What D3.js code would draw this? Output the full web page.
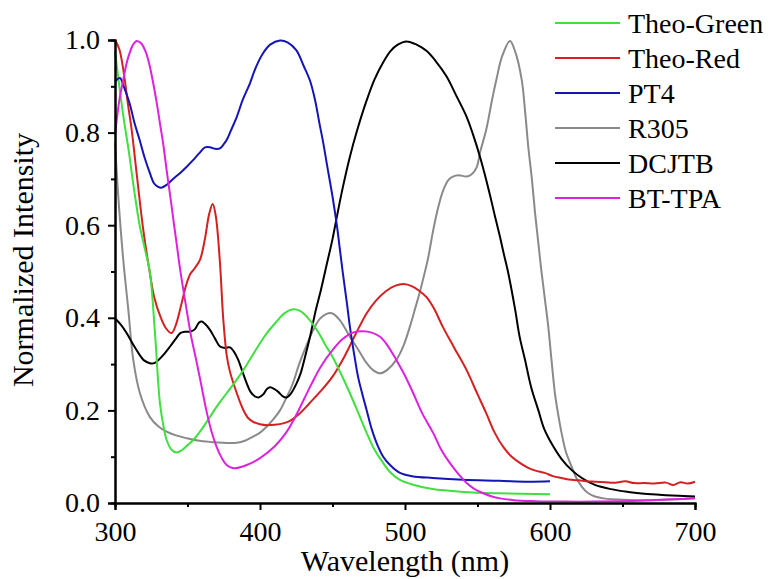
<!DOCTYPE html>
<html>
<head>
<meta charset="utf-8">
<script src="https://cdn.jsdelivr.net/npm/d3@7/dist/d3.min.js"></script>
</head>
<body style="margin:0">
<svg id="s" width="770" height="579"></svg>
<script>
// ---------- data ----------
const seriesNames = ["Theo-Green", "Theo-Red", "PT4", "R305", "DCJTB", "BT-TPA"];
const seriesColors = ["#3fe03f", "#d42020", "#1414b8", "#8a8a8a", "#000000", "#dd22dd"];

const xTicks = [300, 400, 500, 600, 700];
const xMinorTicks = [350, 450, 550, 650];
const yTicks = [0.0, 0.2, 0.4, 0.6, 0.8, 1.0];
const yMinorTicks = [0.1, 0.3, 0.5, 0.7, 0.9];

const theoGreen = [
  [300,0.975],[303,0.90],[306,0.83],[309.5,0.76],[313,0.68],[317,0.60],[320.5,0.55],[324,0.50],
  [327.5,0.37],[331,0.215],[333.5,0.165],[335.6,0.136],[339,0.115],[342.5,0.109],[346,0.114],
  [350,0.125],[354,0.136],[360,0.16],[365.5,0.186],[371,0.212],[377,0.237],[383,0.262],
  [388.5,0.287],[394,0.315],[400,0.345],[405,0.368],[411.5,0.392],[417,0.41],[422,0.418],
  [427.6,0.415],[433,0.40],[440,0.37],[445,0.342],[450,0.316],[456,0.278],[462,0.237],
  [468,0.193],[473.6,0.151],[479,0.115],[485,0.086],[490,0.066],[496.5,0.05],[505,0.04],
  [519,0.030],[540,0.024],[565,0.021],[600,0.019]
];

const theoRed = [
  [300,1.0],[303,0.98],[306,0.93],[309,0.86],[311.5,0.806],[315,0.71],[319.5,0.59],[323.7,0.503],
  [327,0.445],[331,0.405],[335,0.378],[339,0.367],[342,0.385],[346,0.432],[349,0.47],[352,0.495],
  [355,0.507],[358.6,0.525],[362,0.57],[365,0.625],[367.4,0.646],[369.5,0.62],[372.4,0.518],
  [374.6,0.40],[377,0.32],[379,0.287],[384,0.237],[388.5,0.201],[392,0.183],[395,0.176],
  [400,0.17],[405,0.168],[410,0.169],[416,0.172],[421,0.178],[427,0.192],[434,0.215],
  [442,0.242],[450,0.273],[458,0.315],[466,0.365],[473.6,0.41],[480,0.437],[487,0.458],
  [493,0.469],[499,0.473],[505,0.468],[510,0.458],[515,0.444],[520,0.42],
  [526,0.381],[534,0.335],[542.5,0.287],[550,0.235],[556,0.194],[562,0.151],[568,0.12],
  [573.6,0.1],[580,0.085],[585,0.076],[590,0.07],[596.5,0.065],[602,0.058],[608,0.054],
  [615,0.05],[620,0.049],[625,0.047],[631,0.046],[638,0.045],[645,0.044],[652,0.047],
  [658,0.043],[665,0.043],[672,0.042],[680,0.044],[685,0.039],[690,0.045],[695,0.042],[700,0.046]
];

const pt4 = [
  [300,0.91],[303.4,0.918],[306,0.9],[310,0.864],[313.5,0.82],[317,0.784],[320.5,0.745],
  [324,0.713],[327,0.69],[329.7,0.683],[332,0.681],[335.6,0.687],[340,0.70],[345,0.713],
  [350,0.728],[354,0.741],[358,0.755],[362,0.768],[366,0.768],[369,0.765],[372.4,0.766],
  [375,0.775],[377,0.784],[380,0.805],[384,0.834],[388,0.87],[393,0.906],[397,0.94],
  [402,0.971],[407,0.99],[413.8,0.999],[419,0.995],[425,0.978],[430,0.945],[434.5,0.912],
  [438,0.87],[441,0.82],[443.5,0.78],[446,0.734],[450,0.662],[453,0.60],[455,0.55],
  [457,0.50],[460,0.43],[462,0.381],[465,0.32],[467.6,0.273],[471,0.23],[473.6,0.2],
  [477,0.16],[480.5,0.129],[485,0.1],[489.7,0.082],[496.5,0.065],[505,0.058],[519,0.054],
  [540,0.05],[565,0.048],[585,0.046],[600,0.047]
];

const r305 = [
  [300,0.78],[302.3,0.66],[305.7,0.525],[309.2,0.417],[312.6,0.309],[317.2,0.237],[324,0.186],
  [330,0.165],[335.6,0.154],[342,0.146],[349.4,0.14],[357,0.135],[365.5,0.132],[375,0.13],
  [384,0.13],[390,0.135],[395,0.143],[400,0.152],[404.6,0.165],[409,0.18],[413.8,0.2],
  [418,0.226],[422.5,0.257],[427,0.30],[432,0.34],[437,0.375],[442,0.40],[449.4,0.41],
  [455,0.395],[462,0.359],[468,0.33],[473.6,0.302],[478,0.287],[482.8,0.28],[488,0.288],
  [494,0.309],[499,0.34],[503.4,0.381],[507,0.42],[510,0.453],[513,0.49],[516,0.53],
  [519.5,0.59],[523,0.64],[526.4,0.676],[530,0.698],[533,0.705],[537,0.708],[542.5,0.705],
  [546,0.71],[549.4,0.725],[552,0.76],[556,0.806],[560,0.87],[563,0.914],[567,0.965],
  [572.4,0.998],[576,0.975],[580.5,0.914],[583,0.84],[585,0.77],[587.5,0.70],[589.7,0.626],
  [592,0.56],[594,0.503],[596.5,0.44],[598.8,0.381],[601,0.31],[603.4,0.237],[606,0.185],
  [608,0.151],[611,0.11],[615,0.078],[618,0.055],[622,0.035],[626,0.022],[631,0.014],
  [637,0.01],[642.5,0.008],[660,0.006],[680,0.007],[700,0.01]
];

const dcjtb = [
  [300,0.399],[304,0.385],[308,0.367],[312,0.345],[317,0.32],[320,0.308],[324,0.302],
  [327,0.302],[330,0.309],[334,0.322],[338,0.338],[342,0.355],[345,0.367],[348,0.37],
  [351.7,0.37],[355,0.375],[358,0.39],[359.8,0.392],[362,0.387],[365.5,0.374],[369,0.355],
  [372.4,0.338],[376,0.335],[379.3,0.336],[382,0.327],[385,0.309],[388,0.283],[390.8,0.259],
  [393.5,0.24],[396.6,0.23],[399,0.228],[402.3,0.235],[405,0.247],[407,0.25],[410,0.246],
  [412.6,0.24],[415.5,0.231],[418.4,0.228],[421,0.235],[425.3,0.259],[428,0.28],[431,0.315],
  [434.5,0.359],[438,0.41],[442,0.46],[446,0.515],[450,0.57],[453,0.618],[457,0.68],
  [462,0.748],[467,0.805],[473.6,0.87],[479,0.915],[485,0.952],[490,0.976],[495,0.99],
  [501,0.997],[508,0.99],[515,0.976],[521,0.955],[528.7,0.921],[535,0.882],[542.5,0.834],
  [547,0.795],[551.7,0.748],[555,0.71],[558.6,0.665],[562,0.62],[565.5,0.575],[568,0.54],
  [571,0.50],[576,0.417],[579,0.36],[582.8,0.309],[587,0.25],[592,0.2],[596,0.16],
  [601,0.129],[608,0.095],[615,0.071],[622,0.054],[631,0.039],[642,0.03],[654,0.024],
  [665,0.02],[680,0.017],[700,0.014]
];

const btTpa = [
  [300,0.795],[303,0.87],[305.7,0.914],[308,0.95],[310,0.971],[312.5,0.99],[315,0.998],
  [318,0.993],[320.7,0.978],[323.5,0.95],[326.4,0.906],[329,0.86],[331,0.82],[333.5,0.77],
  [335.6,0.719],[338,0.665],[340,0.618],[342.5,0.56],[345,0.503],[349.4,0.417],[352.5,0.36],
  [356,0.309],[359.5,0.255],[363,0.2],[366.5,0.155],[370,0.122],[373.5,0.098],[377,0.082],
  [381.6,0.075],[390,0.081],[400,0.097],[410,0.122],[418,0.152],[425,0.19],[430,0.222],
  [436,0.26],[442,0.295],[450,0.33],[457,0.354],[464,0.368],[471,0.371],[477,0.368],
  [482.8,0.359],[488,0.34],[494,0.309],[500,0.275],[505.7,0.237],[512,0.193],[519.5,0.151],
  [525,0.115],[531,0.086],[537,0.062],[542.5,0.043],[548,0.03],[554,0.021],[560,0.014],
  [565.5,0.01],[575,0.006],[590,0.004],[610,0.003],[630,0.003],[650,0.004],[670,0.006],
  [685,0.008],[700,0.01]
];

const seriesData = [theoGreen, theoRed, pt4, r305, dcjtb, btTpa];

// ---------- layout ----------
const SERIF = "Liberation Serif";
const svg = d3.select("#s");
const x = d3.scaleLinear().domain([300, 700]).range([115, 695]);
const y = d3.scaleLinear().domain([0, 1.0]).range([503, 40]);
const FONT = 28;

function serifText(sel, size) {
  sel.attr("font-family", SERIF).attr("font-size", size)
     .style("font-family", SERIF, "important").style("font-size", size + "px", "important");
}

// curves
const line = d3.line().x(d => x(d[0])).y(d => y(d[1])).curve(d3.curveCatmullRom.alpha(0.5));
// draw order: gray, black, red, green, blue, magenta
[3, 4, 1, 0, 2, 5].forEach(i => {
  svg.append("path")
    .datum(seriesData[i])
    .attr("fill", "none")
    .attr("stroke", seriesColors[i])
    .attr("stroke-width", 2)
    .attr("stroke-linejoin", "round")
    .attr("d", line);
});

// axes
const yAxis = d3.axisLeft(y).tickValues(yTicks).tickFormat(d3.format(".1f"))
  .tickSize(7).tickPadding(8);
const yMinor = d3.axisLeft(y).tickValues(yMinorTicks).tickFormat("").tickSize(4);
const xAxis = d3.axisBottom(x).tickValues(xTicks).tickFormat(d3.format("d"))
  .tickSize(7).tickPadding(11);
const xMinor = d3.axisBottom(x).tickValues(xMinorTicks).tickFormat("").tickSize(4);

function styleAxis(g) {
  g.attr("font-family", null).attr("font-size", null);
  g.selectAll("path.domain").attr("stroke", "#000").attr("stroke-width", 2);
  g.selectAll(".tick line").attr("stroke", "#000").attr("stroke-width", 2);
  g.selectAll("text").attr("fill", "#000").call(serifText, FONT);
}

svg.append("g").attr("transform", "translate(115,0)").call(yMinor).call(styleAxis);
svg.append("g").attr("transform", "translate(0,503)").call(xMinor).call(styleAxis);
svg.append("g").attr("transform", "translate(115,0)").call(yAxis).call(styleAxis);
svg.append("g").attr("transform", "translate(0,503)").call(xAxis).call(styleAxis);

// axis titles
svg.append("text")
  .attr("x", 405).attr("y", 571)
  .attr("text-anchor", "middle")
  .call(serifText, 30)
  .text("Wavelength (nm)");

svg.append("text")
  .attr("transform", "translate(33,260) rotate(-90)")
  .attr("text-anchor", "middle")
  .call(serifText, 30)
  .text("Normalized Intensity");

// legend
seriesNames.forEach((name, i) => {
  const yy = 23 + i * 35;
  svg.append("line")
    .attr("x1", 555).attr("x2", 620).attr("y1", yy).attr("y2", yy)
    .attr("stroke", seriesColors[i]).attr("stroke-width", 2);
  svg.append("text")
    .attr("x", 628).attr("y", yy).attr("dy", "0.35em")
    .call(serifText, FONT)
    .text(name);
});
</script>
</body>
</html>
